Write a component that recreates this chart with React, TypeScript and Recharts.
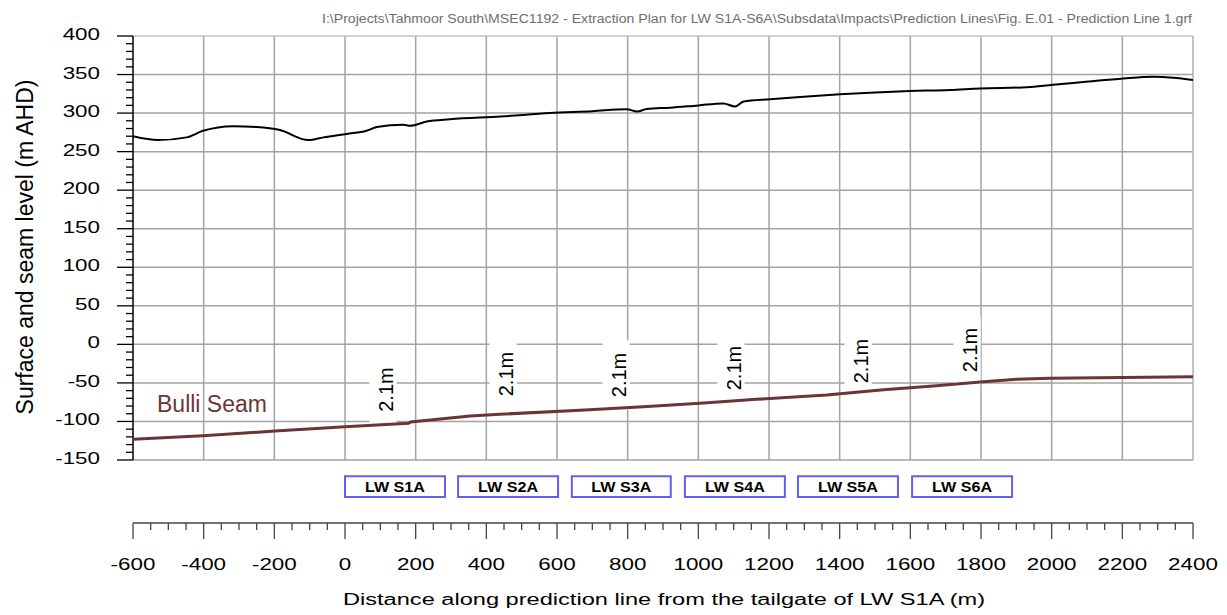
import React from 'react';
import { ComposedChart, Line, XAxis, YAxis, ReferenceLine, ReferenceArea, Label } from 'recharts';

// surface profile along the prediction line (m AHD)
const SURFACE_X = [-600, -529, -448, -402, -317, -250, -184, -104, -61, 5, 61, 90, 165, 184, 231, 297, 440, 580, 700, 797, 827, 854, 920, 1000, 1071, 1104, 1128, 1203, 1288, 1401, 1599, 1712, 1797, 1930, 2004, 2089, 2203, 2288, 2344, 2400];
const SURFACE_LEVEL = [270, 265, 268.5, 277, 283, 282, 278, 265, 268.5, 273, 277, 282, 285, 283.5, 289, 292, 295.5, 300, 302.5, 305, 302, 305.3, 307, 310, 312.5, 308.5, 315, 318, 321, 324.5, 328.7, 330, 332, 333.5, 336.8, 340.3, 345, 347.2, 346, 343];

// Bulli seam floor level
const SEAM_X = [-600, -402, -198, 0, 180, 186, 354, 439, 679, 844, 1005, 1165, 1363, 1524, 1665, 1807, 1901, 1995, 2200, 2400];
const SEAM_LEVEL = [-123, -118.5, -112.4, -106.8, -102.4, -100.8, -93, -90.7, -85, -80.8, -76.5, -71.3, -65.7, -59, -54, -48.4, -45.3, -44, -43, -42];

const X_TICKS = [-600, -400, -200, 0, 200, 400, 600, 800, 1000, 1200, 1400, 1600, 1800, 2000, 2200, 2400];
const Y_TICKS = [-150, -100, -50, 0, 50, 100, 150, 200, 250, 300, 350, 400];

const PANELS = ['LW S1A', 'LW S2A', 'LW S3A', 'LW S4A', 'LW S5A', 'LW S6A'];
const PANEL_START = [0, 320, 642, 962, 1282, 1605];
const PANEL_END = [283, 603, 922, 1245, 1565, 1888];

const THICKNESS = ['2.1m', '2.1m', '2.1m', '2.1m', '2.1m', '2.1m'];
const THICKNESS_X = [116, 456, 776, 1101, 1461, 1769];
const THICKNESS_Y = [-58.6, -38.5, -39.7, -30.7, -21.6, -7.3];

const FILE_PATH = 'I:\\Projects\\Tahmoor South\\MSEC1192 - Extraction Plan for LW S1A-S6A\\Subsdata\\Impacts\\Prediction Lines\\Fig. E.01 - Prediction Line 1.grf';

const FONT = "'Liberation Sans', Arial, sans-serif";
const GRID = '#a3a3a3';
const SEAM_COLOR = '#6b3535';

const surfaceData = SURFACE_X.map((x, i) => ({ x, level: SURFACE_LEVEL[i] }));
const seamData = SEAM_X.map((x, i) => ({ x, level: SEAM_LEVEL[i] }));

const xMin = X_TICKS[0];
const xMax = X_TICKS[X_TICKS.length - 1];
const yMin = Y_TICKS[0];
const yMax = Y_TICKS[Y_TICKS.length - 1];

// the plot box ends at 460px, the distance axis sits lower at 523px
const yAxisBottom = yMin - ((523 - 460) * (yMax - yMin)) / (460 - 36);

const xMinor: number[] = [];
for (let v = xMin; v <= xMax; v += 50) xMinor.push(v);
const yMinor: number[] = [];
for (let v = yMin; v <= yMax; v += 10) yMinor.push(v);

const YTick = (props: any) => {
  const { x, y, payload } = props;
  const v = payload.value;
  const major = v % 50 === 0;
  return (
    <g>
      <line x1={x - (major ? 16 : 7)} x2={x} y1={y} y2={y} stroke="#000" strokeWidth={1.3} />
      {major && (
        <text transform={`translate(${x - 33},${y + 4}) scale(1.4,1)`} textAnchor="end" fontSize={16} fontFamily={FONT} fill="#000">
          {v}
        </text>
      )}
    </g>
  );
};

const XTick = (props: any) => {
  const { x, y, payload } = props;
  const v = payload.value;
  const major = v % 200 === 0;
  return (
    <g>
      <line x1={x} x2={x} y1={y} y2={y + (major ? 16 : 7)} stroke="#444" strokeWidth={1.3} />
      {major && (
        <text transform={`translate(${x},${y + 47}) scale(1.4,1)`} textAnchor="middle" fontSize={16} fontFamily={FONT} fill="#000">
          {v}
        </text>
      )}
    </g>
  );
};

const panelLabel = (text: string) => (props: any) => {
  const { x, y, width, height } = props.viewBox;
  return (
    <text x={x + width / 2} y={y + height / 2 + 5} textAnchor="middle" fontSize={14} fontWeight="bold" fontFamily={FONT} fill="#000" textLength={60} lengthAdjust="spacingAndGlyphs">
      {text}
    </text>
  );
};

const thicknessLabel = (text: string) => (props: any) => {
  const { x, y, width, height } = props.viewBox;
  const cx = x + (width * 47) / 77;
  const cy = y + height / 2;
  return (
    <text transform={`translate(${cx + 7},${cy}) rotate(-90)`} textAnchor="middle" fontSize={20} fontFamily={FONT} fill="#000">
      {text}
    </text>
  );
};

export default function App() {
  return (
    <div style={{ position: 'absolute', left: 0, top: 0, width: 1227, height: 615, background: '#fff' }}>
      <ComposedChart width={1227} height={615} margin={{ top: 36, right: 34, bottom: 0, left: 0 }}>
        <XAxis
          xAxisId={0}
          type="number"
          dataKey="x"
          domain={[xMin, xMax]}
          ticks={xMinor}
          interval={0}
          allowDataOverflow
          height={92}
          tickSize={0}
          tickMargin={0}
          tickLine={false}
          axisLine={{ stroke: '#444', strokeWidth: 1.5 }}
          tick={<XTick />}
        />
        <YAxis
          yAxisId={0}
          type="number"
          domain={[yAxisBottom, yMax]}
          ticks={yMinor}
          interval={0}
          allowDataOverflow
          width={133}
          tickSize={0}
          tickMargin={0}
          tickLine={false}
          axisLine={false}
          tick={<YTick />}
        />

        {X_TICKS.slice(1, -1).map((v) => (
          <ReferenceLine key={'gx' + v} segment={[{ x: v, y: yMin }, { x: v, y: yMax }]} stroke={GRID} strokeWidth={1.5} zIndex={-50} />
        ))}
        {Y_TICKS.slice(0, -1).map((v) => (
          <ReferenceLine key={'gy' + v} segment={[{ x: xMin, y: v }, { x: xMax, y: v }]} stroke={GRID} strokeWidth={1.5} zIndex={-50} />
        ))}
        <ReferenceLine segment={[{ x: xMin, y: yMax }, { x: xMax, y: yMax }]} stroke="#c4c4c4" strokeWidth={1.5} zIndex={-50} />
        <ReferenceLine segment={[{ x: xMax, y: yMin }, { x: xMax, y: yMax }]} stroke="#b0b0b0" strokeWidth={1.5} zIndex={-50} />
        <ReferenceLine segment={[{ x: xMin, y: yMin }, { x: xMin, y: yMax }]} stroke="#000" strokeWidth={1.5} zIndex={-40} />

        {THICKNESS_X.map((v, i) => (
          <ReferenceArea
            key={'t' + i}
            x1={v - 47}
            x2={v + 30}
            y1={THICKNESS_Y[i] - 45}
            y2={THICKNESS_Y[i] + 45}
            fill="#fff"
            fillOpacity={1}
            stroke="none"
            zIndex={-30}
          >
            <Label content={thicknessLabel(THICKNESS[i])} />
          </ReferenceArea>
        ))}

        {PANELS.map((name, i) => (
          <ReferenceArea
            key={name}
            x1={PANEL_START[i]}
            x2={PANEL_END[i]}
            y1={-198}
            y2={-171}
            fill="#fff"
            fillOpacity={1}
            stroke="#5f5ff5"
            strokeWidth={2}
          >
            <Label content={panelLabel(name)} />
          </ReferenceArea>
        ))}

        <Line data={surfaceData} dataKey="level" type="monotone" stroke="#000" strokeWidth={2} dot={false} activeDot={false} isAnimationActive={false} />
        <Line data={seamData} dataKey="level" type="linear" stroke={SEAM_COLOR} strokeWidth={3} dot={false} activeDot={false} isAnimationActive={false} />
      </ComposedChart>

      <svg width={1227} height={615} style={{ position: 'absolute', left: 0, top: 0, pointerEvents: 'none' }}>
        <text x={322} y={22.5} fontSize={12} fontFamily={FONT} fill="#6e6e6e" textLength={870} lengthAdjust="spacingAndGlyphs">
          {FILE_PATH}
        </text>
        <text transform="translate(33,247) rotate(-90)" textAnchor="middle" fontSize={23} fontFamily={FONT} fill="#000">
          Surface and seam level (m AHD)
        </text>
        <text x={157} y={412} fontSize={23} fontFamily={FONT} fill={SEAM_COLOR}>
          Bulli Seam
        </text>
        <text x={343} y={605} fontSize={16} fontFamily={FONT} fill="#000" textLength={642} lengthAdjust="spacingAndGlyphs">
          Distance along prediction line from the tailgate of LW S1A (m)
        </text>
      </svg>
    </div>
  );
}
